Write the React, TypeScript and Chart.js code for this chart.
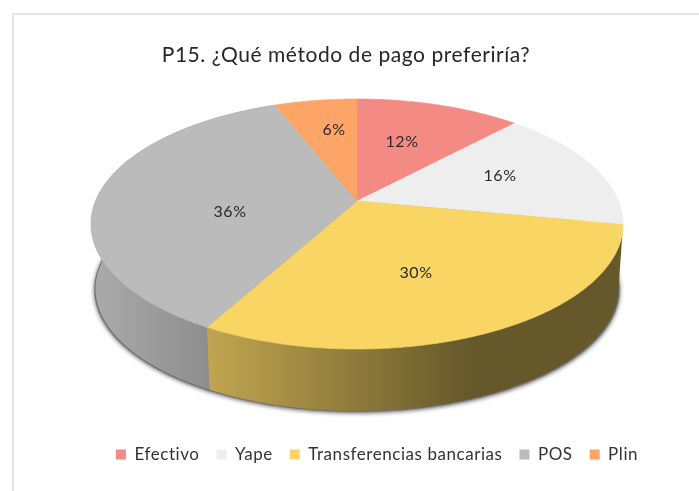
import React, { useEffect, useRef } from "react";
import { Chart, registerables } from "chart.js";

Chart.register(...registerables);

const chartTitle = "P15. ¿Qué método de pago preferiría?";
const categories = ["Efectivo", "Yape", "Transferencias bancarias", "POS", "Plin"];
const shares = [12, 16, 30, 36, 6];
const sliceColors = ["#F38B84", "#EEEEEE", "#F9D564", "#BBBBBB", "#FCA566"];

// Plot geometry of the tilted disc (a perspective view of the library's arcs)
const TOP = { cx: 357, cy: 201, a: 261.5, b: 120.8, k: 0.184 };
const BOTTOM = { cx: 357, cy: 266.4, a: 257, b: 118, k: 0.184 };
const SHADOW = { cx: 357, cy: 266.9, a: 258.2, b: 118.4, k: 0.184 };
const labelSpots: [number, number][] = [
  [402, 142],
  [500, 176],
  [416, 273],
  [230, 212],
  [334, 130],
];
const TRACKING = "0.55px";

type Disc = typeof TOP;
const project = (d: Disc, theta: number, r = 1) => {
  const u = Math.sin(theta) * r;
  const v = -Math.cos(theta) * r;
  const w = 1 - d.k * v;
  return { x: d.cx + (d.a * u) / w, y: d.cy + (d.b * v) / w };
};

const trace = (ctx: CanvasRenderingContext2D, d: Disc, from: number, to: number, move: boolean) => {
  const steps = Math.max(2, Math.ceil(Math.abs(to - from) / 0.01));
  for (let i = 0; i <= steps; i++) {
    const p = project(d, from + ((to - from) * i) / steps);
    if (i === 0 && move) ctx.moveTo(p.x, p.y);
    else ctx.lineTo(p.x, p.y);
  }
};

const sideFill = (ctx: CanvasRenderingContext2D, idx: number) => {
  if (idx === 2) {
    const g = ctx.createLinearGradient(207, 0, 470, 0);
    g.addColorStop(0, "#C2A550");
    g.addColorStop(1, "#65592B");
    return g;
  }
  const g = ctx.createLinearGradient(91, 0, 215, 0);
  g.addColorStop(0, "#ABABAB");
  g.addColorStop(1, "#8C8C8C");
  return g;
};

const piePerspective = {
  id: "piePerspective",
  beforeUpdate(chart: any) {
    chart.ctx.letterSpacing = TRACKING;
  },
  beforeDraw(chart: any) {
    const { ctx, width, height } = chart;
    ctx.letterSpacing = TRACKING;
    ctx.save();
    ctx.fillStyle = "#FFFFFF";
    ctx.fillRect(0, 0, width, height);
    ctx.fillStyle = "#E4E4E4";
    ctx.fillRect(12, 13, width - 12, 2);
    ctx.fillRect(12, 13, 2, height - 13);
    ctx.restore();
  },
  afterLayout(chart: any) {
    const lg = chart.legend;
    lg.left += 31;
    lg.right += 31;
    lg.top += 2;
    lg.bottom += 2;
  },
  beforeDatasetDraw() {
    return false;
  },
  afterDatasetsDraw(chart: any) {
    const { ctx } = chart;
    const arcs = chart.getDatasetMeta(0).data;
    const angle = (v: number) => v + Math.PI / 2;
    ctx.save();

    // soft shadow under the disc
    ctx.save();
    ctx.shadowColor = "rgba(20,20,20,0.7)";
    ctx.shadowBlur = 4;
    ctx.shadowOffsetY = 1;
    ctx.fillStyle = "#707070";
    ctx.beginPath();
    trace(ctx, SHADOW, 0, Math.PI * 2, true);
    ctx.closePath();
    ctx.fill();
    ctx.restore();

    // visible rim
    [3, 2].forEach((i) => {
      const arc = arcs[i];
      const from = angle(arc.startAngle);
      const to = angle(arc.endAngle);
      ctx.fillStyle = sideFill(ctx, i);
      ctx.beginPath();
      trace(ctx, TOP, from, to, true);
      trace(ctx, BOTTOM, to, from, false);
      ctx.closePath();
      ctx.fill();
    });

    // upper face
    arcs.forEach((arc: any, i: number) => {
      const from = angle(arc.startAngle);
      const to = angle(arc.endAngle);
      const c = project(TOP, 0, 0);
      ctx.fillStyle = sliceColors[i];
      ctx.strokeStyle = sliceColors[i];
      ctx.lineWidth = 0.6;
      ctx.beginPath();
      ctx.moveTo(c.x, c.y);
      trace(ctx, TOP, from, to, false);
      ctx.closePath();
      ctx.fill();
      ctx.stroke();
    });

    // labels
    const total = shares.reduce((s, v) => s + v, 0);
    ctx.fillStyle = "#2A2A2A";
    ctx.font = "16px Lato";
    ctx.textAlign = "center";
    ctx.textBaseline = "middle";
    shares.forEach((v, i) => {
      const [x, y] = labelSpots[i];
      ctx.fillText(`${Math.round((v / total) * 100)}%`, x, y);
    });
    ctx.restore();
  },
};

export default function App() {
  const ref = useRef<HTMLCanvasElement>(null);
  useEffect(() => {
    document.body.style.margin = "0";
    const chart = new Chart(ref.current!, {
      type: "pie",
      data: {
        labels: categories,
        datasets: [{ data: shares, backgroundColor: sliceColors, borderWidth: 0 }],
      },
      plugins: [piePerspective],
      options: {
        animation: false,
        responsive: false,
        layout: { padding: { top: 0, right: 7, bottom: 20, left: 0 } },
        plugins: {
          tooltip: { enabled: false },
          title: {
            display: true,
            text: chartTitle,
            color: "#262626",
            font: { family: "Lato", size: 21, weight: "normal" },
            padding: { top: 43, bottom: 10 },
          },
          legend: {
            position: "bottom",
            labels: {
              color: "#333333",
              font: { family: "Lato", size: 17 },
              boxWidth: 10,
              boxHeight: 10,
              padding: 17,
            },
          },
        },
      },
    });
    return () => chart.destroy();
  }, []);
  return (
    <div style={{ width: 699, height: 491 }}>
      <canvas ref={ref} width={699} height={491} style={{ display: "block" }} />
    </div>
  );
}
